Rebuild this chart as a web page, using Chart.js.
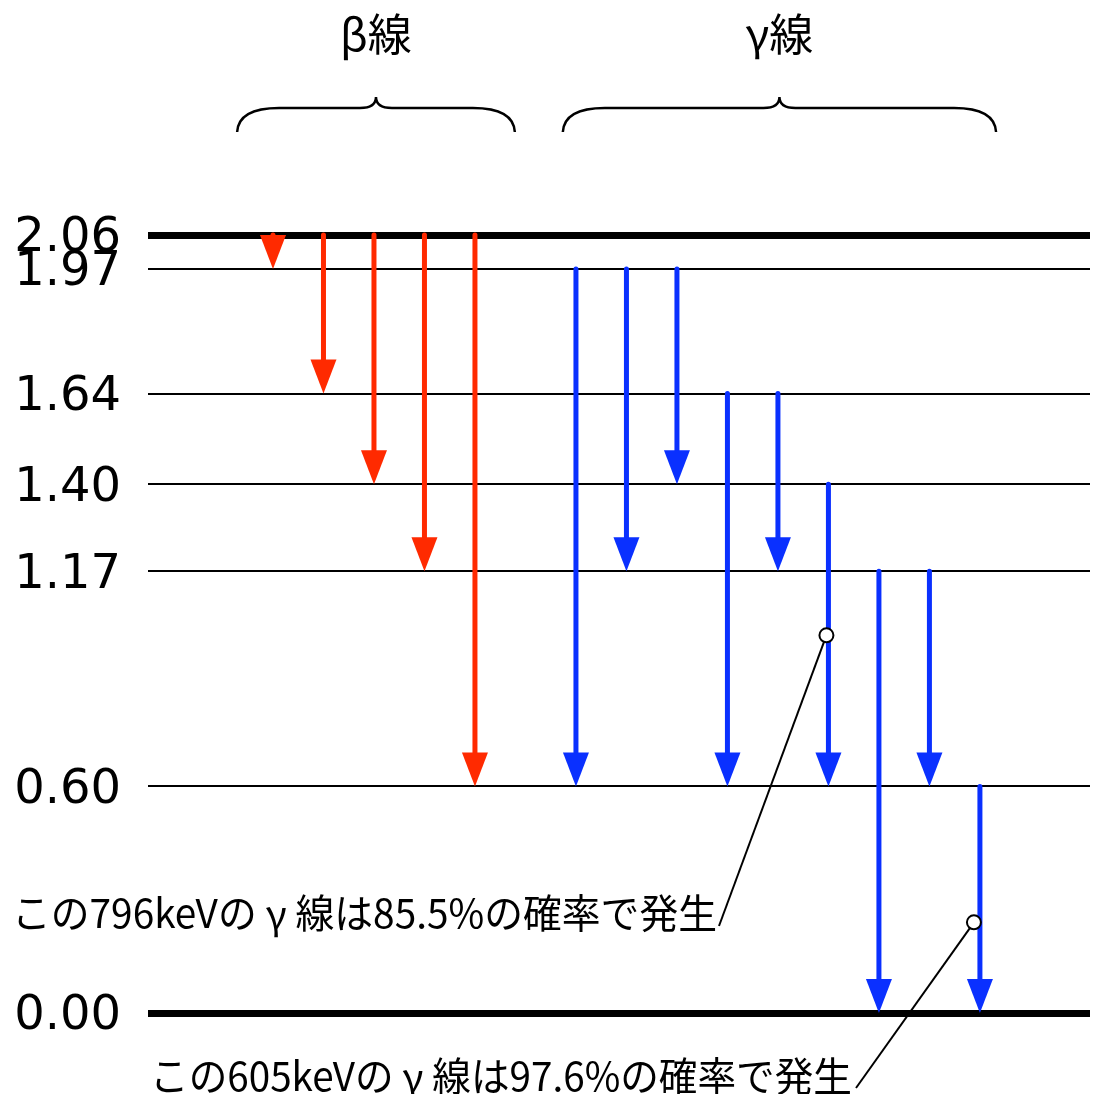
<!doctype html>
<html>
<head>
<script src="https://cdn.jsdelivr.net/npm/chart.js@4"></script>
<style>
  html, body { margin: 0; padding: 0; background: #fff; }
  canvas { display: block; }
</style>
</head>
<body>
<canvas id="chart-area" width="1103" height="1094"></canvas>
<script>
// energy levels (MeV)
var levels = [2.06, 1.97, 1.64, 1.40, 1.17, 0.60, 0.00];

// beta transitions (column, start level, end level)
var betaCols = [0, 1, 2, 3, 4];
var betaFrom = [2.06, 2.06, 2.06, 2.06, 2.06];
var betaTo   = [1.97, 1.64, 1.40, 1.17, 0.60];

// gamma transitions
var gammaCols = [6, 7, 8, 9, 10, 11, 12, 13, 14];
var gammaFrom = [1.97, 1.97, 1.97, 1.64, 1.64, 1.40, 1.17, 1.17, 0.60];
var gammaTo   = [0.60, 1.17, 1.40, 0.60, 1.17, 0.60, 0.00, 0.60, 0.00];

var groupNames = ['β線', 'γ線'];

// notes: text, arrow column, energy where the marker sits
var noteTexts  = ['この796keVのγ線は85.5%の確率で発生', 'この605keVのγ線は97.6%の確率で発生'];
var noteCols   = [11, 14];
var noteLevels = [1.00, 0.24];

// ---- layout / style (not data) ----
var RED = '#ff2a00', BLUE = '#0a30ff';
var headW = 26, headLen = 34, shaftW = 5;
var braceSpans = [[-0.71, 4.79], [5.74, 14.32]];
var noteLayout = [
  { dx: -2, endX: 719, endY: 926, textLeft: 12, textMid: 913, width: 705 },
  { dx: -6, endX: 856, endY: 1088, textLeft: 150, textMid: 1076, width: 702 }
];

var datasets = [];
betaCols.forEach(function(c, i) {
  datasets.push({ arrow: true, color: RED, data: [{x: c, y: betaFrom[i]}, {x: c, y: betaTo[i]}] });
});
gammaCols.forEach(function(c, i) {
  datasets.push({ arrow: true, color: BLUE, data: [{x: c, y: gammaFrom[i]}, {x: c, y: gammaTo[i]}] });
});
datasets.forEach(function(d) {
  d.showLine = false;
  d.pointRadius = 0;
  d.borderColor = d.color;
});

var arrowPlugin = {
  id: 'arrows',
  afterDatasetsDraw: function(chart) {
    var ctx = chart.ctx;
    chart.data.datasets.forEach(function(ds, i) {
      if (!ds.arrow) return;
      var pts = chart.getDatasetMeta(i).data;
      var x = pts[0].x, y0 = pts[0].y, y1 = pts[1].y;
      ctx.save();
      ctx.strokeStyle = ds.color;
      ctx.fillStyle = ds.color;
      ctx.lineWidth = shaftW;
      ctx.lineCap = 'round';
      ctx.beginPath();
      ctx.moveTo(x, y0);
      ctx.lineTo(x, Math.max(y0, y1 - headLen + 2));
      ctx.stroke();
      ctx.beginPath();
      ctx.moveTo(x - headW / 2, y1 - headLen);
      ctx.lineTo(x + headW / 2, y1 - headLen);
      ctx.lineTo(x, y1);
      ctx.closePath();
      ctx.fill();
      ctx.restore();
    });
  }
};

function drawBrace(ctx, x1, x2, xm) {
  var yTip = 97, yMid = 108, yEnd = 132;
  ctx.beginPath();
  ctx.moveTo(x1, yEnd);
  ctx.bezierCurveTo(x1 + 1, yMid + 8, x1 + 14, yMid, x1 + 42, yMid);
  ctx.lineTo(xm - 16, yMid);
  ctx.bezierCurveTo(xm - 5, yMid, xm, yMid - 4, xm, yTip);
  ctx.bezierCurveTo(xm, yMid - 4, xm + 5, yMid, xm + 16, yMid);
  ctx.lineTo(x2 - 42, yMid);
  ctx.bezierCurveTo(x2 - 14, yMid, x2 - 1, yMid + 8, x2, yEnd);
  ctx.stroke();
}

// draws a note with the gamma sign set in a full-width cell, squeezed to width
function drawNote(ctx, text, left, mid, width) {
  var fontPx = 40;
  ctx.font = fontPx + 'px "Noto Sans CJK JP"';
  var k = text.indexOf('γ');
  var a = text.slice(0, k), b = text.slice(k + 1);
  var wa = ctx.measureText(a).width, wb = ctx.measureText(b).width;
  var total = wa + fontPx + wb;
  ctx.save();
  ctx.translate(left, mid);
  ctx.scale(width / total, 1);
  ctx.textBaseline = 'middle';
  ctx.textAlign = 'left';
  ctx.fillText(a, 0, 0);
  ctx.textAlign = 'center';
  ctx.fillText('γ', wa + fontPx / 2, 2);
  ctx.textAlign = 'left';
  ctx.fillText(b, wa + fontPx, 0);
  ctx.restore();
}

var notesPlugin = {
  id: 'notes',
  afterDraw: function(chart) {
    var ctx = chart.ctx, xs = chart.scales.x, ys = chart.scales.y;
    ctx.save();
    // group braces and titles
    ctx.strokeStyle = '#000';
    ctx.lineWidth = 2.5;
    ctx.fillStyle = '#000';
    ctx.font = '44px "Noto Sans CJK JP"';
    ctx.textAlign = 'center';
    ctx.textBaseline = 'middle';
    groupNames.forEach(function(name, i) {
      var x1 = xs.getPixelForValue(braceSpans[i][0]);
      var x2 = xs.getPixelForValue(braceSpans[i][1]);
      var xm = (x1 + x2) / 2;
      drawBrace(ctx, x1, x2, xm);
      ctx.fillText(name, xm, 34);
    });
    // notes with leader lines
    noteTexts.forEach(function(t, i) {
      var L = noteLayout[i], r = 7;
      var cx = xs.getPixelForValue(noteCols[i]) + L.dx;
      var cy = ys.getPixelForValue(noteLevels[i]);
      var a = Math.atan2(L.endY - cy, L.endX - cx);
      ctx.strokeStyle = '#000';
      ctx.lineWidth = 2;
      ctx.beginPath();
      ctx.moveTo(cx + r * Math.cos(a), cy + r * Math.sin(a));
      ctx.lineTo(L.endX, L.endY);
      ctx.stroke();
      ctx.beginPath();
      ctx.arc(cx, cy, r, 0, Math.PI * 2);
      ctx.fillStyle = '#fff';
      ctx.fill();
      ctx.stroke();
      ctx.fillStyle = '#000';
      drawNote(ctx, t, L.textLeft, L.textMid, L.width);
    });
    ctx.restore();
  }
};

var config = {
  type: 'scatter',
  data: { datasets: datasets },
  options: {
    responsive: false,
    animation: false,
    devicePixelRatio: 1,
    layout: { padding: { top: 235, bottom: 81, left: 0, right: 13 } },
    plugins: { legend: { display: false }, tooltip: { enabled: false } },
    scales: {
      x: { type: 'linear', min: -2.475, max: 16.18, display: false },
      y: {
        type: 'linear', min: 0, max: 2.06,
        afterBuildTicks: function(s) { s.ticks = levels.map(function(v) { return { value: v }; }); },
        afterFit: function(s) { s.width = 148; },
        border: { display: false },
        grid: {
          color: '#000',
          drawTicks: false,
          lineWidth: function(c) {
            return (c.tick && (c.tick.value === 0 || c.tick.value === 2.06)) ? 7 : 2;
          }
        },
        ticks: {
          autoSkip: false,
          padding: 27,
          color: '#000',
          font: { family: 'DejaVu Sans', size: 48, lineHeight: '8px' },
          // empty first line nudges the number down onto its level line
          callback: function(v) { return ['', v.toFixed(2)]; }
        }
      }
    }
  },
  plugins: [arrowPlugin, notesPlugin]
};

window.onload = function() {
  var ctx = document.getElementById('chart-area').getContext('2d');
  window.myChart = new Chart(ctx, config);
};
</script>
</body>
</html>
